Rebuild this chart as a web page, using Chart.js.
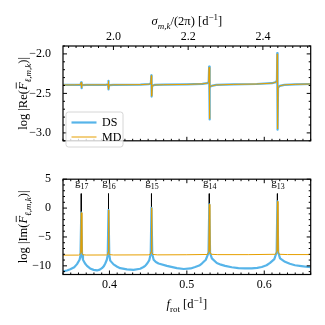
<!DOCTYPE html>
<html>
<head>
<meta charset="utf-8">
<script src="https://cdn.jsdelivr.net/npm/chart.js@4.4.1/dist/chart.umd.min.js"></script>
<style>
  html, body { margin: 0; padding: 0; background: #fff; }
  #wrap { position: relative; width: 325px; height: 325px; }
  canvas { position: absolute; left: 0; }
  #reChart { top: 0; }
  #imChart { top: 160px; }
</style>
</head>
<body>
<div id="wrap">
  <canvas id="reChart" width="325" height="160"></canvas>
  <canvas id="imChart" width="325" height="165"></canvas>
</div>
<script>
// resonances (g modes) and peak heights in the Im panel
const fRes = [0.3636, 0.3988, 0.4543, 0.5290, 0.6170];
const resNames = ["17", "16", "15", "14", "13"];
const imPeak = [-0.8, -0.35, 0.05, 0.65, 1.15];
const markTop = 2.5;

// tick labels
const fTicks = [0.4, 0.5, 0.6];
const sigTicks = [2.0, 2.2, 2.4];
const reTicks = [-3.0, -2.5, -2.0];
const imTicks = [-10, -5, 0, 5];

// top panel: log|Re(F)|
const reF = [0.3400, 0.3550, 0.3628, 0.3634, 0.3638, 0.3644, 0.3700, 0.3950, 0.3982, 0.3986,
  0.3990, 0.3996, 0.4050, 0.4400, 0.4515, 0.4535, 0.4541, 0.4545, 0.4551, 0.4580,
  0.4700, 0.5000, 0.5200, 0.5265, 0.5282, 0.5288, 0.5292, 0.5298, 0.5320, 0.5380,
  0.5600, 0.5900, 0.6100, 0.6150, 0.6164, 0.6168, 0.6172, 0.6178, 0.6200, 0.6260,
  0.6400, 0.6600];
const reDS = [-2.393, -2.392, -2.389, -2.36, -2.435, -2.395, -2.392, -2.391, -2.386, -2.34,
  -2.45, -2.396, -2.391, -2.389, -2.383, -2.372, -2.27, -2.54, -2.405, -2.393,
  -2.390, -2.386, -2.379, -2.370, -2.355, -2.16, -2.83, -2.42, -2.405, -2.393,
  -2.386, -2.381, -2.371, -2.358, -2.335, -1.99, -2.96, -2.43, -2.405, -2.392,
  -2.385, -2.381];
const reMD = [-2.393, -2.392, -2.389, -2.362, -2.432, -2.395, -2.392, -2.391, -2.386, -2.342,
  -2.447, -2.396, -2.391, -2.389, -2.383, -2.372, -2.275, -2.535, -2.405, -2.393,
  -2.390, -2.386, -2.379, -2.370, -2.356, -2.17, -2.82, -2.42, -2.405, -2.393,
  -2.386, -2.381, -2.371, -2.358, -2.336, -2.0, -2.95, -2.43, -2.405, -2.392,
  -2.385, -2.381];

// bottom panel: log|Im(F)|
const imFDS = [0.3400, 0.3450, 0.3494, 0.3545, 0.3581, 0.3614, 0.3626, 0.3636, 0.3646, 0.3658,
  0.3685, 0.3710, 0.3750, 0.3795, 0.3839, 0.3875, 0.3903, 0.3928, 0.3946, 0.3966,
  0.3978, 0.3988, 0.3998, 0.4010, 0.4053, 0.4100, 0.4139, 0.4226, 0.4311, 0.4397,
  0.4440, 0.4462, 0.4490, 0.4515, 0.4533, 0.4543, 0.4553, 0.4571, 0.4600, 0.4634,
  0.4742, 0.4871, 0.4960, 0.5050, 0.5107, 0.5160, 0.5194, 0.5245, 0.5280, 0.5290,
  0.5300, 0.5323, 0.5387, 0.5440, 0.5494, 0.5580, 0.5666, 0.5750, 0.5839, 0.5910,
  0.5968, 0.6030, 0.6075, 0.6130, 0.6160, 0.6170, 0.6180, 0.6204, 0.6268, 0.6330,
  0.6397, 0.6480, 0.6569, 0.6600];
const imDS = [-10.95, -10.8, -10.6, -10.25, -9.7, -8.95, -8.2, -0.8, -8.2, -8.95,
  -9.6, -10.0, -10.45, -10.7, -10.8, -10.65, -10.4, -10.05, -9.6, -8.95,
  -8.1, -0.35, -8.1, -9.1, -9.75, -10.15, -10.4, -10.6, -10.7, -10.5,
  -10.2, -10.0, -9.55, -9.0, -7.95, 0.05, -7.95, -8.95, -9.35, -9.6,
  -10.0, -10.4, -10.55, -10.45, -10.2, -9.95, -9.6, -8.95, -7.75, 0.65,
  -7.75, -8.7, -9.5, -9.8, -10.0, -10.25, -10.4, -10.45, -10.45, -10.35,
  -10.2, -9.9, -9.5, -8.85, -7.65, 1.15, -7.65, -8.7, -9.3, -9.65,
  -9.9, -10.05, -10.2, -10.25];
const imFMD = [0.3400, 0.3600, 0.3616, 0.3628, 0.3636, 0.3644, 0.3656, 0.3700, 0.3960, 0.3978,
  0.3982, 0.3988, 0.3994, 0.3998, 0.4050, 0.4500, 0.4525, 0.4537, 0.4543, 0.4549,
  0.4561, 0.4620, 0.5000, 0.5265, 0.5283, 0.5290, 0.5297, 0.5315, 0.5400, 0.5800,
  0.6145, 0.6163, 0.6170, 0.6177, 0.6195, 0.6300, 0.6600];
const imMD = [-8.15, -8.14, -8.08, -7.7, -0.8, -7.7, -8.08, -8.13, -8.12, -8.05,
  -7.6, -0.35, -7.6, -8.05, -8.12, -8.1, -8.03, -7.55, 0.05, -7.55,
  -8.03, -8.1, -8.08, -8.03, -7.5, 0.65, -7.5, -8.0, -8.06, -8.06,
  -8.0, -7.45, 1.15, -7.45, -8.0, -8.05, -8.05];

const BLUE = "#56B4E9";
const ORANGE = "#E69F00";
const SERIF = "'Liberation Serif', 'DejaVu Serif', serif";
const tickFont = { family: SERIF, size: 12 };

const pts = (xs, ys) => xs.map((x, i) => ({ x: x, y: ys[i] }));
const fmt = (v, d) => (d ? v.toFixed(d) : String(v)).replace("-", "\u2212");
const setTicks = arr => s => { s.ticks = arr.map(v => ({ value: v })); };

// text with sub/superscripts, centred on x, baseline y
function drawRich(ctx, segs, x, y, size) {
  const fontOf = s => (s.it ? "italic " : "") + (s.sub || s.sup ? size * 0.72 : size) + "px " + SERIF;
  const ws = segs.map(s => { ctx.font = fontOf(s); return ctx.measureText(s.t).width; });
  let cx = x - ws.reduce((a, b) => a + b, 0) / 2;
  ctx.textAlign = "left";
  ctx.textBaseline = "alphabetic";
  segs.forEach((s, i) => {
    ctx.font = fontOf(s);
    const dy = s.sub ? size * 0.3 : s.sup ? -size * 0.42 : 0;
    ctx.fillText(s.t, cx, y + dy);
    if (s.bar) {
      ctx.beginPath();
      ctx.lineWidth = 0.8;
      ctx.moveTo(cx + 1.5, y - size * 0.86);
      ctx.lineTo(cx + ws[i], y - size * 0.86);
      ctx.stroke();
    }
    cx += ws[i];
  });
}

function drawTicks(ctx, scale, side, area, majors, step) {
  const lo = Math.min(scale.min, scale.max), hi = Math.max(scale.min, scale.max);
  for (let i = Math.ceil(lo / step - 1e-6); i * step <= hi + 1e-9; i++) {
    const v = i * step;
    const major = majors.some(m => Math.abs(m - v) < step / 4);
    const len = major ? 4 : 2;
    const p = scale.getPixelForValue(v);
    ctx.beginPath();
    if (side === "bottom") { ctx.moveTo(p, area.bottom); ctx.lineTo(p, area.bottom - len); }
    if (side === "top") { ctx.moveTo(p, area.top); ctx.lineTo(p, area.top + len); }
    if (side === "left") { ctx.moveTo(area.left, p); ctx.lineTo(area.left + len, p); }
    if (side === "right") { ctx.moveTo(area.right, p); ctx.lineTo(area.right - len, p); }
    ctx.stroke();
  }
}

const framePlugin = {
  id: "frame",
  afterDraw(chart, args, opts) {
    const ctx = chart.ctx, a = chart.chartArea;
    ctx.save();
    ctx.strokeStyle = "#000";
    ctx.fillStyle = "#000";
    ctx.lineWidth = 1;
    opts.ticks.forEach(t => drawTicks(ctx, chart.scales[t.id], t.side, a, t.majors, t.step));
    ctx.lineWidth = 1.2;
    ctx.strokeRect(a.left, a.top, a.width, a.height);
    if (opts.extra) opts.extra(chart, ctx, a);
    ctx.restore();
  }
};

// ---------- top panel ----------
new Chart(document.getElementById("reChart"), {
  type: "line",
  data: {
    datasets: [
      { label: "MD", data: pts(reF, reMD), borderColor: ORANGE, borderWidth: 1 },
      { label: "DS", data: pts(reF, reDS), borderColor: BLUE, borderWidth: 2.2 }
    ]
  },
  options: {
    responsive: false, animation: false, events: [],
    layout: { padding: { left: 0, right: 14.3, top: 0, bottom: 8.3 } },
    elements: { point: { radius: 0 }, line: { tension: 0, borderJoinStyle: "round", fill: false } },
    plugins: {
      legend: { display: false }, tooltip: { enabled: false },
      frame: {
        ticks: [
          { id: "x", side: "bottom", majors: fTicks, step: 0.01 },
          { id: "x2", side: "top", majors: sigTicks, step: 0.02 },
          { id: "y", side: "left", majors: reTicks, step: 0.1 },
          { id: "y", side: "right", majors: reTicks, step: 0.1 }
        ],
        extra(chart, ctx, a) {
          drawRich(ctx, [{ t: "σ", it: true }, { t: "m,k", it: true, sub: true },
            { t: "/(2π) [d" }, { t: "\u22121", sup: true }, { t: "]" }], (a.left + a.right) / 2, 25, 12.5);
          ctx.save();
          ctx.translate(27, (a.top + a.bottom) / 2);
          ctx.rotate(-Math.PI / 2);
          drawRich(ctx, [{ t: "log |Re(" }, { t: "F", it: true, bar: true },
            { t: "ℓ,m,k", it: true, sub: true }, { t: ")|" }], 0, 0, 12.5);
          ctx.restore();
          // legend box
          ctx.beginPath();
          ctx.lineWidth = 0.8;
          ctx.strokeStyle = "#cccccc";
          ctx.fillStyle = "rgba(255,255,255,0.8)";
          ctx.roundRect(66, 112, 57, 35, 2.5);
          ctx.fill();
          ctx.stroke();
          ctx.lineWidth = 2.2;
          ctx.strokeStyle = BLUE;
          ctx.beginPath(); ctx.moveTo(71.5, 122.5); ctx.lineTo(96.5, 122.5); ctx.stroke();
          ctx.lineWidth = 1;
          ctx.strokeStyle = ORANGE;
          ctx.beginPath(); ctx.moveTo(71.5, 137); ctx.lineTo(96.5, 137); ctx.stroke();
          ctx.fillStyle = "#000";
          ctx.font = "12px " + SERIF;
          ctx.textAlign = "left";
          ctx.textBaseline = "middle";
          ctx.fillText("DS", 102, 123);
          ctx.fillText("MD", 102, 137.5);
        }
      }
    },
    scales: {
      x: { type: "linear", min: 0.34, max: 0.66, display: false },
      x2: {
        type: "linear", position: "top", min: 1.865, max: 2.528,
        afterBuildTicks: setTicks(sigTicks), afterFit: s => { s.height = 46; },
        grid: { display: false, drawTicks: false }, border: { display: false },
        ticks: { padding: 2, maxRotation: 0, color: "#000", font: tickFont, callback: v => fmt(v, 1) }
      },
      y: {
        min: -3.1, max: -1.9,
        afterBuildTicks: setTicks(reTicks), afterFit: s => { s.width = 63; },
        grid: { display: false, drawTicks: false }, border: { display: false },
        ticks: { padding: 12, color: "#000", font: tickFont, callback: v => fmt(v, 1) }
      }
    }
  },
  plugins: [framePlugin]
});

// ---------- bottom panel ----------
const markerSets = fRes.map((f, i) => ({
  data: [{ x: f, y: markTop }, { x: f, y: imPeak[i] }],
  borderColor: "#000", borderWidth: 1
}));

new Chart(document.getElementById("imChart"), {
  type: "line",
  data: {
    datasets: [
      { label: "MD", data: pts(imFMD, imMD), borderColor: ORANGE, borderWidth: 1 },
      { label: "DS", data: pts(imFDS, imDS), borderColor: BLUE, borderWidth: 2.2 }
    ].concat(markerSets)
  },
  options: {
    responsive: false, animation: false, events: [],
    layout: { padding: { left: 0, right: 14.3, top: 10, bottom: 0 } },
    elements: { point: { radius: 0 }, line: { tension: 0, borderJoinStyle: "round", fill: false } },
    plugins: {
      legend: { display: false }, tooltip: { enabled: false },
      frame: {
        ticks: [
          { id: "x", side: "bottom", majors: fTicks, step: 0.01 },
          { id: "x", side: "top", majors: fTicks, step: 0.01 },
          { id: "y", side: "left", majors: imTicks, step: 1 },
          { id: "y", side: "right", majors: imTicks, step: 1 }
        ],
        extra(chart, ctx, a) {
          const xs = chart.scales.x, ys = chart.scales.y;
          ctx.fillStyle = "#000";
          fRes.forEach((f, i) => {
            drawRich(ctx, [{ t: "g" }, { t: resNames[i], sub: true }], xs.getPixelForValue(f) + 0.5, ys.getPixelForValue(3.85), 11);
          });
          drawRich(ctx, [{ t: "f", it: true }, { t: "rot", sub: true }, { t: " [d" },
            { t: "\u22121", sup: true }, { t: "]" }], (a.left + a.right) / 2, 148, 12.5);
          ctx.save();
          ctx.translate(27, (a.top + a.bottom) / 2);
          ctx.rotate(-Math.PI / 2);
          drawRich(ctx, [{ t: "log |Im(" }, { t: "F", it: true, bar: true },
            { t: "ℓ,m,k", it: true, sub: true }, { t: ")|" }], 0, 0, 12.5);
          ctx.restore();
        }
      }
    },
    scales: {
      x: {
        type: "linear", min: 0.34, max: 0.66,
        afterBuildTicks: setTicks(fTicks), afterFit: s => { s.height = 50.5; },
        grid: { display: false, drawTicks: false }, border: { display: false },
        ticks: { padding: 3, maxRotation: 0, color: "#000", font: tickFont, callback: v => fmt(v, 1) }
      },
      y: {
        min: -11.5, max: 5,
        afterBuildTicks: setTicks(imTicks), afterFit: s => { s.width = 63; },
        grid: { display: false, drawTicks: false }, border: { display: false },
        ticks: { padding: 12, color: "#000", font: tickFont, callback: v => fmt(v) }
      }
    }
  },
  plugins: [framePlugin]
});
</script>
</body>
</html>
